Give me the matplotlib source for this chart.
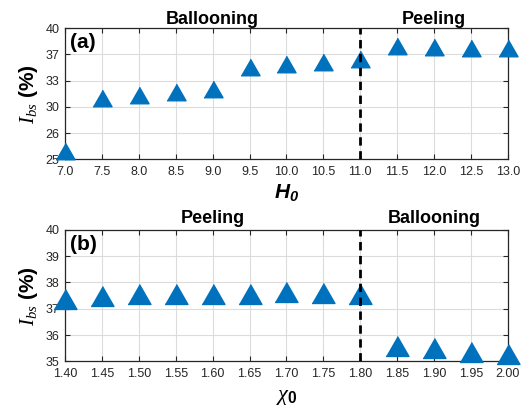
import matplotlib
matplotlib.use('Agg')
import matplotlib.pyplot as plt
import numpy as np

plt.rcParams['font.family'] = ['Liberation Sans', 'DejaVu Sans']
plt.rcParams['mathtext.fontset'] = 'custom'
plt.rcParams['mathtext.rm'] = 'Liberation Sans'
plt.rcParams['mathtext.it'] = 'Liberation Serif:italic'
plt.rcParams['mathtext.bf'] = 'Liberation Sans:bold'
plt.rcParams['mathtext.bfit'] = 'Liberation Sans:italic:bold'

# panel (a): bootstrap current vs H0
h0 = [7.0, 7.5, 8.0, 8.5, 9.0, 9.5, 10.0, 10.5, 11.0, 11.5, 12.0, 12.5, 13.0]
ibs_a = [25.3, 31.0, 31.4, 31.7, 32.1, 35.1, 35.5, 35.9, 36.3, 38.0, 37.9, 37.8, 37.7]
a_yticks = [25, 26, 30, 33, 37, 40]
a_xticks = [7.0, 7.5, 8.0, 8.5, 9.0, 9.5, 10.0, 10.5, 11.0, 11.5, 12.0, 12.5, 13.0]

# panel (b): bootstrap current vs chi0
chi0 = [1.40, 1.45, 1.50, 1.55, 1.60, 1.65, 1.70, 1.75, 1.80, 1.85, 1.90, 1.95, 2.00]
ibs_b = [37.39, 37.5, 37.56, 37.56, 37.56, 37.58, 37.64, 37.6, 37.56, 35.59, 35.5, 35.37, 35.28]
b_yticks = [35, 36, 37, 38, 39, 40]

blue = '#0072BD'
tri = [(-1, -0.87), (1, -0.87), (0, 0.87)]

# the (a) axis has evenly spaced ticks with uneven labels
def fwd(y):
    return np.interp(y, a_yticks, np.arange(len(a_yticks)))

def inv(y):
    return np.interp(y, np.arange(len(a_yticks)), a_yticks)


def style(ax):
    ax.grid(True, color='#dcdcdc', lw=0.8)
    ax.set_axisbelow(True)
    ax.tick_params(direction='in', top=True, right=True, length=3.5, width=0.8,
                   labelsize=9, colors='#262626')
    ax.tick_params(axis='x', pad=5)
    ax.tick_params(axis='y', pad=4)
    for s in ax.spines.values():
        s.set_color('#262626')
        s.set_linewidth(0.9)


fig = plt.figure(figsize=(5.21, 4.13), dpi=100)
ax1 = fig.add_axes([0.1248, 0.6143, 0.850, 0.3172])
ax2 = fig.add_axes([0.1248, 0.1252, 0.850, 0.318])

ax1.set_yscale('function', functions=(fwd, inv))
ax1.plot(h0, ibs_a, ls='none', marker=tri, ms=13.7, color=blue, clip_on=False, zorder=3)
ax1.axvline(11.0, color='black', lw=2, dashes=(3, 2), zorder=4)
ax1.set_xlim(7.0, 13.0)
ax1.set_ylim(25, 40)
ax1.set_xticks(a_xticks)
ax1.set_xticklabels(['%.1f' % v for v in a_xticks])
ax1.set_yticks(a_yticks)
ax1.set_yticklabels([str(v) for v in a_yticks])
ax1.yaxis.set_minor_locator(matplotlib.ticker.NullLocator())
style(ax1)
ax1.set_xlabel(r'$\mathbfit{H}_{\mathbfit{0}}$', fontsize=15, labelpad=3)
ax1.set_ylabel(r'$I_{bs}$ $\mathbf{(\%)}$', fontsize=15, labelpad=4)
ax1.text(9.0, 40.4, 'Ballooning', fontsize=13, fontweight='bold', ha='center', va='bottom')
ax1.text(12.0, 40.4, 'Peeling', fontsize=13, fontweight='bold', ha='center', va='bottom')
ax1.text(0.012, 0.965, '(a)', transform=ax1.transAxes, fontsize=15, fontweight='bold',
         ha='left', va='top')

ax2.plot(chi0, ibs_b, ls='none', marker=tri, ms=16.5, color=blue, clip_on=False, zorder=3)
ax2.axvline(1.80, color='black', lw=2, dashes=(3, 2), zorder=4)
ax2.set_xlim(1.40, 2.00)
ax2.set_ylim(35, 40)
ax2.set_xticks(chi0)
ax2.set_xticklabels(['%.2f' % v for v in chi0])
ax2.set_yticks(b_yticks)
style(ax2)
ax2.set_xlabel(r'$\chi_{\mathbf{0}}$', fontsize=16, labelpad=4)
ax2.set_ylabel(r'$I_{bs}$ $\mathbf{(\%)}$', fontsize=15, labelpad=4)
ax2.text(1.60, 40.12, 'Peeling', fontsize=13, fontweight='bold', ha='center', va='bottom')
ax2.text(1.90, 40.12, 'Ballooning', fontsize=13, fontweight='bold', ha='center', va='bottom')
ax2.text(0.012, 0.965, '(b)', transform=ax2.transAxes, fontsize=15, fontweight='bold',
         ha='left', va='top')

fig.savefig('out.png', dpi=100)
